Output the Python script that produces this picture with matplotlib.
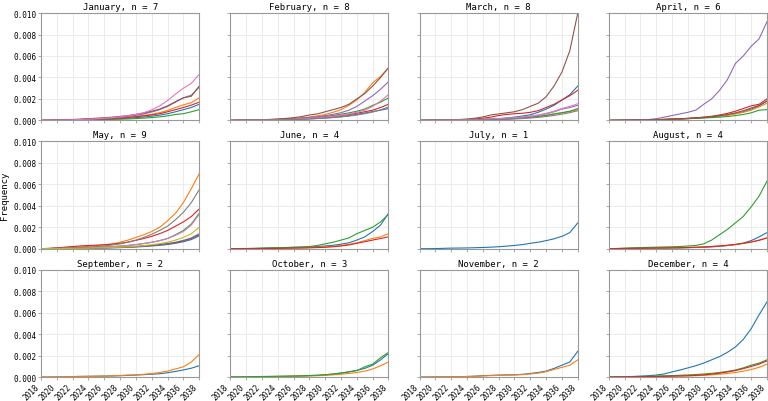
import numpy as np
import matplotlib.pyplot as plt

# yearly points, frequencies in units of 1e-3
years = np.arange(2018, 2039)

months = ['January', 'February', 'March', 'April', 'May', 'June',
          'July', 'August', 'September', 'October', 'November', 'December']

jan = [
    [0, 0, .01, .02, .03, .05, .06, .08, .10, .13, .16, .20, .25, .31, .39, .49, .62, .80, 1.0, 1.2, 1.5],
    [0, .01, .02, .04, .06, .08, .10, .13, .16, .19, .23, .29, .37, .46, .56, .72, .92, 1.2, 1.45, 1.65, 2.1],
    [0, 0, .01, .01, .02, .03, .04, .05, .07, .09, .11, .13, .17, .21, .26, .33, .42, .55, .62, .8, 1.0],
    [0, .01, .02, .03, .05, .07, .09, .11, .14, .17, .21, .27, .34, .42, .51, .62, .8, 1.0, 1.2, 1.42, 1.7],
    [0, .01, .02, .03, .05, .08, .10, .13, .17, .22, .28, .36, .47, .6, .78, 1.0, 1.3, 1.7, 2.1, 2.35, 3.1],
    [0, .01, .03, .05, .08, .12, .16, .20, .25, .30, .37, .45, .56, .68, .85, 1.05, 1.35, 1.75, 2.1, 2.25, 3.2],
    [0, .01, .02, .03, .05, .08, .11, .15, .2, .26, .33, .43, .56, .72, .98, 1.35, 1.85, 2.45, 3.0, 3.45, 4.3],
]
feb = [
    [0, 0, .01, .02, .03, .04, .05, .07, .09, .11, .14, .18, .22, .28, .35, .44, .55, .68, .82, .95, 1.1],
    [0, .01, .02, .03, .05, .07, .10, .14, .19, .25, .32, .42, .55, .75, 1.0, 1.4, 1.9, 2.6, 3.5, 4.1, 4.9],
    [0, .01, .03, .04, .05, .06, .08, .1, .13, .17, .22, .28, .36, .46, .58, .7, .85, 1.05, 1.4, 1.7, 2.1],
    [0, .01, .02, .03, .04, .05, .07, .09, .12, .15, .19, .24, .3, .37, .45, .55, .67, .8, .95, 1.2, 1.5],
    [0, .01, .02, .03, .04, .06, .08, .11, .15, .2, .26, .34, .44, .56, .72, .95, 1.3, 1.8, 2.3, 2.9, 3.6],
    [0, .01, .02, .04, .06, .09, .13, .18, .25, .35, .5, .6, .8, 1.0, 1.2, 1.5, 2.0, 2.5, 3.2, 4.0, 4.9],
    [0, 0, .01, .02, .03, .04, .06, .08, .11, .14, .18, .23, .3, .38, .48, .6, .75, .95, 1.3, 1.8, 2.4],
    [0, 0, .01, .02, .03, .04, .05, .06, .08, .1, .13, .17, .21, .26, .32, .4, .5, .62, .78, .98, 1.25],
]
mar = [
    [0, 0, .01, .02, .03, .04, .05, .07, .09, .12, .16, .22, .3, .4, .52, .75, 1.05, 1.4, 1.9, 2.4, 3.2],
    [0, 0, .01, .01, .02, .03, .04, .05, .07, .09, .11, .14, .18, .23, .29, .36, .45, .58, .7, .82, 1.0],
    [0, .01, .02, .02, .03, .03, .04, .05, .06, .08, .1, .13, .17, .22, .28, .36, .46, .6, .72, .85, 1.1],
    [0, .01, .02, .03, .04, .06, .09, .13, .2, .3, .45, .55, .62, .66, .75, .9, 1.2, 1.5, 1.9, 2.3, 2.8],
    [0, 0, .01, .02, .03, .04, .05, .07, .09, .11, .14, .18, .23, .29, .37, .47, .6, .8, 1.05, 1.2, 1.4],
    [0, .01, .02, .03, .05, .08, .12, .2, .32, .5, .6, .7, .8, 1.0, 1.3, 1.6, 2.2, 3.2, 4.5, 6.5, 10.0],
    [0, 0, .01, .02, .03, .04, .06, .08, .1, .13, .16, .2, .25, .31, .39, .5, .65, .85, 1.1, 1.3, 1.55],
    [0, 0, 0, .01, .01, .02, .03, .04, .05, .06, .08, .1, .13, .17, .22, .28, .36, .46, .58, .72, .9],
]
apr = [
    [0, 0, .01, .02, .03, .04, .06, .08, .1, .13, .16, .2, .25, .31, .39, .5, .63, .8, 1.05, 1.35, 1.8],
    [0, .01, .02, .03, .04, .05, .07, .09, .12, .15, .18, .22, .27, .33, .4, .48, .6, .75, .95, 1.25, 1.6],
    [0, .01, .02, .03, .04, .05, .07, .09, .11, .13, .16, .19, .22, .26, .3, .36, .44, .55, .7, .95, 1.0],
    [0, .01, .01, .02, .03, .05, .07, .09, .12, .15, .19, .24, .3, .38, .5, .65, .85, 1.1, 1.35, 1.5, 2.0],
    [0, .01, .02, .03, .05, .08, .15, .3, .45, .6, .75, .95, 1.5, 2.0, 2.8, 3.8, 5.3, 6.0, 6.9, 7.6, 9.2],
    [0, .01, .02, .03, .04, .05, .06, .08, .1, .13, .17, .22, .28, .35, .44, .55, .7, .9, 1.15, 1.4, 1.8],
]
may = [
    [0, 0, .01, .01, .02, .03, .04, .05, .06, .08, .1, .13, .16, .2, .25, .31, .39, .5, .65, .85, 1.2],
    [0, .02, .05, .08, .12, .17, .22, .28, .35, .45, .6, .8, 1.05, 1.3, 1.6, 2.0, 2.6, 3.3, 4.3, 5.6, 7.0],
    [0, .01, .02, .03, .05, .07, .09, .12, .15, .19, .24, .3, .38, .48, .6, .75, .95, 1.3, 1.7, 2.3, 3.3],
    [0, .03, .08, .14, .2, .26, .3, .33, .37, .42, .5, .62, .78, .95, 1.15, 1.4, 1.7, 2.1, 2.5, 3.0, 3.7],
    [0, 0, .01, .02, .03, .04, .05, .06, .08, .1, .12, .15, .19, .24, .3, .38, .47, .6, .78, 1.0, 1.4],
    [0, .01, .02, .03, .04, .05, .06, .07, .09, .11, .13, .16, .2, .25, .31, .38, .46, .57, .72, .95, 1.3],
    [0, .01, .02, .03, .05, .07, .09, .12, .15, .19, .24, .3, .38, .48, .6, .75, .95, 1.25, 1.6, 2.2, 3.2],
    [0, .01, .03, .05, .08, .11, .15, .2, .26, .34, .45, .6, .8, 1.05, 1.35, 1.7, 2.1, 2.7, 3.4, 4.3, 5.5],
    [0, 0, .01, .02, .03, .04, .05, .07, .09, .11, .14, .18, .23, .29, .37, .47, .6, .8, 1.05, 1.4, 2.0],
]
jun = [
    [0, 0, .01, .02, .04, .06, .08, .1, .12, .14, .16, .2, .25, .32, .42, .55, .8, 1.1, 1.6, 2.2, 3.3],
    [0, 0, .01, .01, .02, .03, .04, .05, .06, .08, .1, .13, .17, .22, .3, .4, .55, .75, .95, 1.1, 1.4],
    [0, .01, .02, .03, .05, .07, .09, .11, .13, .16, .2, .3, .45, .6, .8, 1.0, 1.4, 1.7, 2.0, 2.5, 3.2],
    [0, 0, 0, .01, .01, .02, .03, .04, .05, .06, .08, .1, .13, .18, .25, .35, .5, .65, .8, .95, 1.1],
]
jul = [
    [0, 0, .01, .03, .05, .06, .07, .09, .11, .14, .18, .24, .3, .38, .5, .6, .75, .92, 1.15, 1.5, 2.4],
]
aug = [
    [0, 0, .01, .01, .02, .03, .04, .05, .06, .07, .09, .11, .13, .17, .22, .29, .38, .52, .75, 1.1, 1.5],
    [0, .01, .02, .03, .04, .05, .06, .07, .08, .09, .11, .13, .16, .2, .25, .3, .38, .48, .62, .8, 1.0],
    [0, .02, .05, .08, .1, .12, .14, .16, .18, .2, .25, .3, .45, .8, 1.3, 1.8, 2.4, 3.0, 3.9, 4.9, 6.3],
    [0, .01, .02, .03, .04, .05, .06, .07, .08, .09, .11, .13, .16, .2, .25, .32, .4, .5, .62, .78, 1.0],
]
sep = [
    [0, 0, .01, .02, .04, .06, .07, .08, .09, .1, .12, .15, .18, .22, .26, .3, .4, .52, .66, .82, 1.05],
    [0, 0, .01, .02, .03, .04, .05, .06, .08, .1, .14, .18, .2, .25, .32, .42, .55, .75, .95, 1.4, 2.1],
]
oct_ = [
    [0, 0, .01, .02, .03, .04, .05, .06, .08, .1, .12, .15, .2, .27, .36, .48, .62, .8, 1.1, 1.6, 2.2],
    [0, 0, .01, .02, .03, .04, .05, .06, .07, .08, .1, .12, .15, .2, .26, .33, .42, .55, .75, 1.05, 1.4],
    [0, .01, .02, .04, .05, .06, .07, .08, .09, .11, .14, .17, .21, .28, .37, .48, .6, .95, 1.2, 1.8, 2.3],
]
nov = [
    [0, 0, .01, .01, .02, .03, .05, .08, .12, .15, .18, .19, .2, .25, .33, .42, .55, .8, 1.1, 1.4, 2.4],
    [0, 0, .01, .01, .02, .03, .04, .06, .1, .13, .15, .17, .19, .22, .28, .36, .5, .7, .9, 1.1, 1.6],
]
dec = [
    [0, .01, .03, .05, .08, .12, .18, .28, .48, .65, .85, 1.05, 1.3, 1.6, 1.9, 2.3, 2.8, 3.5, 4.5, 5.8, 7.0],
    [0, 0, .01, .02, .03, .04, .05, .06, .07, .08, .1, .12, .15, .2, .26, .33, .42, .54, .7, .9, 1.2],
    [0, .01, .02, .03, .05, .07, .09, .11, .13, .16, .19, .23, .28, .34, .42, .52, .65, .85, 1.1, 1.3, 1.6],
    [0, 0, .01, .02, .03, .04, .05, .06, .08, .1, .12, .15, .2, .27, .36, .47, .6, .78, .98, 1.2, 1.5],
]
data = [jan, feb, mar, apr, may, jun, jul, aug, sep, oct_, nov, dec]

plt.rcParams['font.family'] = 'DejaVu Sans Mono'

fig, axs = plt.subplots(3, 4, figsize=(7.68, 4.02), dpi=100, sharex=True, sharey=True)
fig.subplots_adjust(left=0.0534, right=0.9987, top=0.965, bottom=0.0597,
                    wspace=0.196, hspace=0.196)
axs = axs.ravel()

for i, (month, series) in enumerate(zip(months, data)):
    ax = axs[i]
    for s in series:
        ax.plot(years, np.array(s) * 1e-3, lw=0.8)
    ax.set_title(f'{month}, n = {len(series)}', fontsize=6.5, pad=3)
    ax.grid(True, color='#e8e8e8', lw=0.6)
    ax.set_axisbelow(True)
    for sp in ax.spines.values():
        sp.set_color('#999999')
        sp.set_linewidth(0.8)
    ax.tick_params(labelsize=5.5, length=2, width=0.6, color='#999999', pad=1.5)

ax = axs[0]
ax.set_xlim(2018, 2038)
ax.set_ylim(0, 0.010)
ax.set_xticks(np.arange(2018, 2039, 2))
ax.set_yticks(np.arange(0, 0.0101, 0.002))
ax.yaxis.set_major_formatter(plt.FormatStrFormatter('%.3f'))

for ax in axs[8:]:
    for lab in ax.get_xticklabels():
        lab.set_rotation(45)
        lab.set_ha('right')

axs[4].set_ylabel('Frequency', fontsize=6.5, labelpad=3)

fig.savefig('out.png', dpi=100)
